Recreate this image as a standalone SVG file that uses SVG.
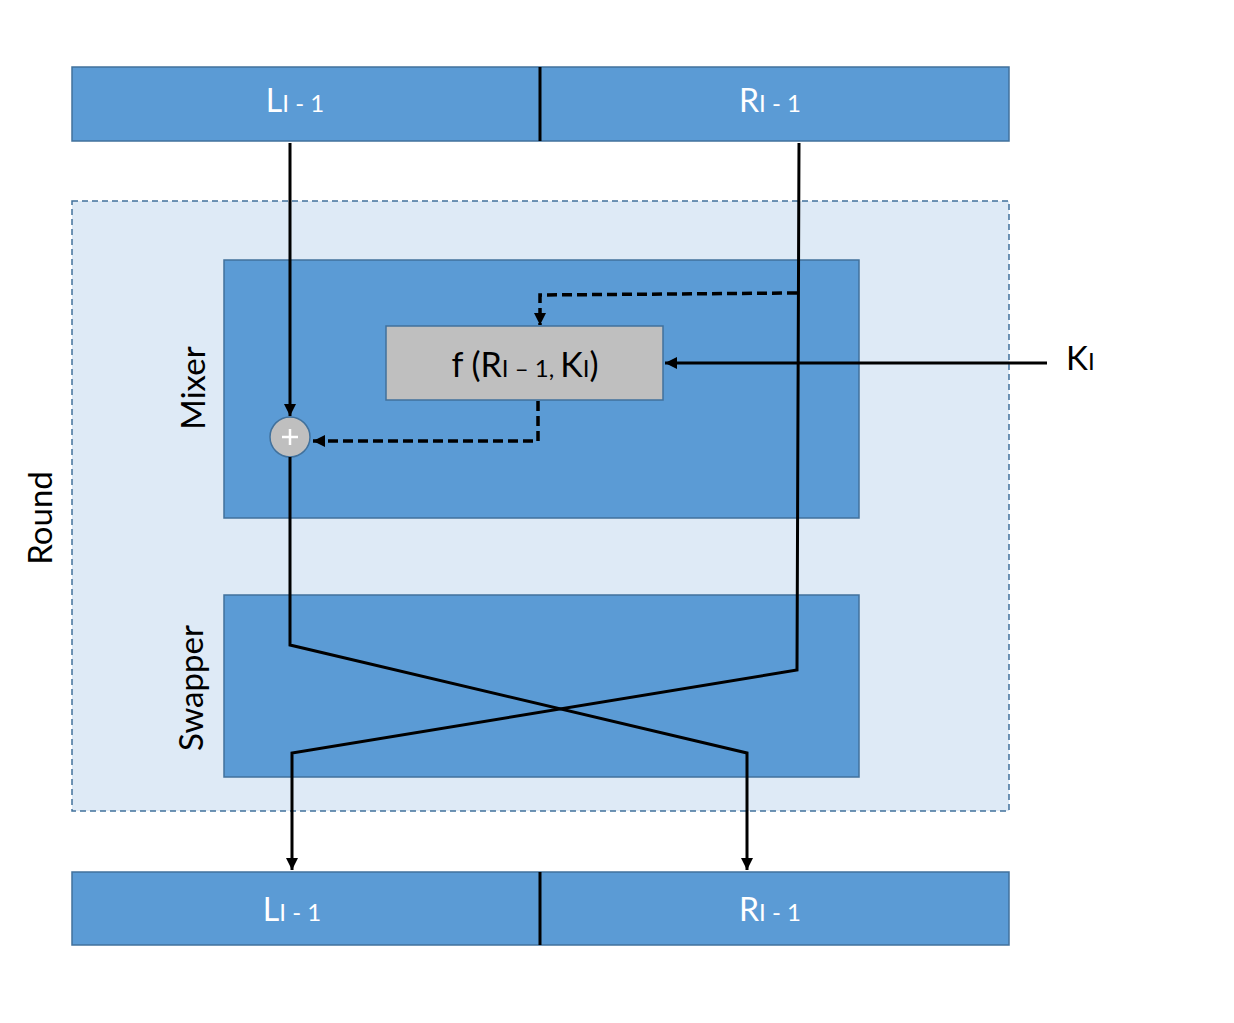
<svg xmlns="http://www.w3.org/2000/svg" width="1234" height="1023" viewBox="0 0 1234 1023">
<style>
.blk{fill:#5B9BD5;stroke:#41719C;stroke-width:1.5}
.wt{fill:#FFFFFF;font-family:Lato,"Liberation Sans",sans-serif;font-size:32px;text-anchor:middle}
.bt{fill:#000000;font-family:Lato,"Liberation Sans",sans-serif;font-size:33px;text-anchor:middle}
.sub{font-size:24px}
.ln{fill:none;stroke:#000;stroke-width:3}
.dl{fill:none;stroke:#000;stroke-width:3.5;stroke-dasharray:10 5}
</style>
<defs>
<marker id="ah" markerUnits="userSpaceOnUse" markerWidth="12" markerHeight="12" viewBox="0 0 12 12" refX="12" refY="6" orient="auto">
<path d="M0,0 L12,6 L0,12 Z" fill="#000"/>
</marker>
</defs>
<rect width="1234" height="1023" fill="#FFFFFF"/>
<g id="round">
<rect x="72" y="201" width="937" height="610" fill="#DEEAF6" stroke="#41719C" stroke-width="1.5" stroke-dasharray="6 4"/>
<text class="bt" x="52" y="518" transform="rotate(-90 52 518)">Round</text>
</g>
<g id="top">
<rect class="blk" x="72" y="67" width="937" height="74"/>
<line x1="540" y1="67" x2="540" y2="141" stroke="#000" stroke-width="3"/>
<text class="wt" x="295" y="112">L<tspan class="sub">I - 1</tspan></text>
<text class="wt" x="770" y="112">R<tspan class="sub">I - 1</tspan></text>
</g>
<g id="mixer">
<rect class="blk" x="224" y="260" width="635" height="258"/>
<text class="bt" x="205" y="388" transform="rotate(-90 205 388)">Mixer</text>
</g>
<g id="swapper">
<rect class="blk" x="224" y="595" width="635" height="182"/>
<text class="bt" x="203" y="688" transform="rotate(-90 203 688)">Swapper</text>
</g>
<g id="f">
<rect x="386" y="326" width="277" height="74" fill="#BFBFBF" stroke="#41719C" stroke-width="1.5"/>
<text class="bt" x="525" y="377" style="font-size:34px">f (R<tspan class="sub">I – 1, </tspan>K<tspan class="sub">I</tspan>)</text>
</g>
<g id="xor">
<circle cx="290" cy="437" r="20" fill="#BFBFBF" stroke="#41719C" stroke-width="1.5"/>
<path d="M290,429 V445 M282,437 H298" stroke="#FFFFFF" stroke-width="2.5"/>
</g>
<g id="bottom">
<rect class="blk" x="72" y="872" width="937" height="73"/>
<line x1="540" y1="872" x2="540" y2="945" stroke="#000" stroke-width="3"/>
<text class="wt" x="292" y="921">L<tspan class="sub">I - 1</tspan></text>
<text class="wt" x="770" y="921">R<tspan class="sub">I - 1</tspan></text>
</g>
<g id="ki">
<text class="bt" x="1078" y="370" style="text-anchor:start" dx="-12">K<tspan class="sub">I</tspan></text>
</g>
<g id="connectors">
<path class="ln" d="M290,143 V416" marker-end="url(#ah)"/>
<path class="ln" d="M290,457 V645 L747,753 V870" marker-end="url(#ah)"/>
<path class="ln" d="M799,143 L797,670 L292,753 V870" marker-end="url(#ah)"/>
<path class="ln" d="M1047,363 H665" marker-end="url(#ah)"/>
<path class="dl" d="M797,293 L540,295 V325" marker-end="url(#ah)"/>
<path class="dl" d="M538,401 V441 H313" marker-end="url(#ah)"/>
</g>
</svg>
